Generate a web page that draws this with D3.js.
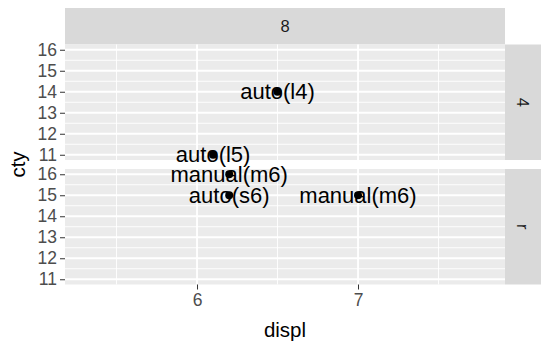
<!DOCTYPE html>
<html>
<head>
<meta charset="utf-8">
<script src="https://cdn.jsdelivr.net/npm/d3@7"></script>
<style>
  body { margin: 0; background: #fff; }
  text { font-family: "Liberation Sans", Arial, sans-serif; }
</style>
</head>
<body>
<div id="chart"></div>
<script>
// mpg subset, cyl == 8
var drv = ["4", "4", "r", "r", "r"]
var displ = [6.5, 6.1, 6.2, 6.2, 7.0]
var cty = [14, 11, 16, 15, 15]
var trans = ["auto(l4)", "auto(l5)", "manual(m6)", "auto(s6)", "manual(m6)"]
var colFacets = ["8"]
var rowFacets = ["4", "r"]
var xTicks = [6, 7]
var yTicks = [11, 12, 13, 14, 15, 16]

var data = displ.map(function(d, i) {
    return { drv: drv[i], displ: d, cty: cty[i], trans: trans[i] }
})

var width = 549, height = 351
var panelLeft = 65, panelRight = 505
var stripTop = 8, stripH = 36.5
var panelH = 115.5, gap = 9
var rightStripW = 36

var svg = d3.select("#chart").append("svg")
    .attr("width", width)
    .attr("height", height)

var x = d3.scaleLinear().domain([5.18, 7.913]).range([panelLeft, panelRight])

// top strip
svg.append("rect")
    .attr("x", panelLeft).attr("y", stripTop)
    .attr("width", panelRight - panelLeft).attr("height", stripH)
    .attr("fill", "#D9D9D9")
svg.append("text")
    .attr("x", (panelLeft + panelRight) / 2)
    .attr("y", stripTop + stripH / 2)
    .attr("dy", "0.35em")
    .attr("text-anchor", "middle")
    .attr("font-size", "16.5px")
    .attr("fill", "#1A1A1A")
    .text(colFacets[0])

rowFacets.forEach(function(f, i) {
    var top = stripTop + stripH + i * (panelH + gap)
    var y = d3.scaleLinear().domain([10.75, 16.25]).range([top + panelH, top])
    var g = svg.append("g")

    g.append("rect")
        .attr("x", panelLeft).attr("y", top)
        .attr("width", panelRight - panelLeft).attr("height", panelH)
        .attr("fill", "#EBEBEB")

    // minor grid
    g.selectAll(".ymin").data(d3.range(11.5, 16, 1)).enter()
        .append("line")
        .attr("x1", panelLeft).attr("x2", panelRight)
        .attr("y1", d => y(d)).attr("y2", d => y(d))
        .attr("stroke", "#fff").attr("stroke-width", 0.9)
    g.selectAll(".xmin").data([5.5, 6.5, 7.5]).enter()
        .append("line")
        .attr("y1", top).attr("y2", top + panelH)
        .attr("x1", d => x(d)).attr("x2", d => x(d))
        .attr("stroke", "#fff").attr("stroke-width", 0.9)
    // major grid
    g.selectAll(".ymaj").data(yTicks).enter()
        .append("line")
        .attr("x1", panelLeft).attr("x2", panelRight)
        .attr("y1", d => y(d)).attr("y2", d => y(d))
        .attr("stroke", "#fff").attr("stroke-width", 1.8)
    g.selectAll(".xmaj").data(xTicks).enter()
        .append("line")
        .attr("y1", top).attr("y2", top + panelH)
        .attr("x1", d => x(d)).attr("x2", d => x(d))
        .attr("stroke", "#fff").attr("stroke-width", 1.8)

    // y axis
    var yAxis = d3.axisLeft(y).tickValues(yTicks).tickFormat(d3.format("d")).tickSize(5).tickPadding(3)
    var ya = g.append("g")
        .attr("transform", "translate(" + panelLeft + ",0)")
        .call(yAxis)
    ya.select(".domain").remove()
    ya.selectAll(".tick line").attr("stroke", "#333333").attr("stroke-width", 1)
    ya.selectAll(".tick text")
        .attr("font-size", "17.5px")
        .attr("fill", "#4D4D4D")
        .style("font-family", "'Liberation Sans', Arial, sans-serif")

    // right strip
    g.append("rect")
        .attr("x", panelRight).attr("y", top)
        .attr("width", rightStripW).attr("height", panelH)
        .attr("fill", "#D9D9D9")
    g.append("text")
        .attr("transform", "translate(" + (panelRight + rightStripW / 2) + "," + (top + panelH / 2) + ") rotate(90)")
        .attr("dy", "0.35em")
        .attr("text-anchor", "middle")
        .attr("font-size", "16.5px")
        .attr("fill", "#1A1A1A")
        .text(f)

    var sub = data.filter(d => d.drv === f)
    g.selectAll("circle").data(sub).enter()
        .append("circle")
        .attr("cx", d => x(d.displ))
        .attr("cy", d => y(d.cty))
        .attr("r", 4)
        .attr("fill", "#000")
    g.selectAll(".lab").data(sub).enter()
        .append("text")
        .attr("x", d => x(d.displ))
        .attr("y", d => y(d.cty))
        .attr("dy", "0.35em")
        .attr("text-anchor", "middle")
        .attr("font-size", "22px")
        .attr("fill", "#000")
        .text(d => d.trans)
})

// x axis
var bottom = stripTop + stripH + 2 * panelH + gap
var xAxis = d3.axisBottom(x).tickValues(xTicks).tickFormat(d3.format("d")).tickSize(5).tickPadding(4)
var xa = svg.append("g")
    .attr("transform", "translate(0," + bottom + ")")
    .call(xAxis)
xa.select(".domain").remove()
xa.selectAll(".tick line").attr("stroke", "#333333").attr("stroke-width", 1)
xa.selectAll(".tick text")
    .attr("font-size", "17.5px")
    .attr("fill", "#4D4D4D")
    .style("font-family", "'Liberation Sans', Arial, sans-serif")

svg.append("text")
    .attr("x", (panelLeft + panelRight) / 2)
    .attr("y", 337)
    .attr("text-anchor", "middle")
    .attr("font-size", "20.5px")
    .attr("fill", "#000")
    .text("displ")

svg.append("text")
    .attr("transform", "translate(25," + ((stripTop + stripH + bottom) / 2) + ") rotate(-90)")
    .attr("text-anchor", "middle")
    .attr("font-size", "20.5px")
    .attr("fill", "#000")
    .text("cty")
</script>
</body>
</html>
